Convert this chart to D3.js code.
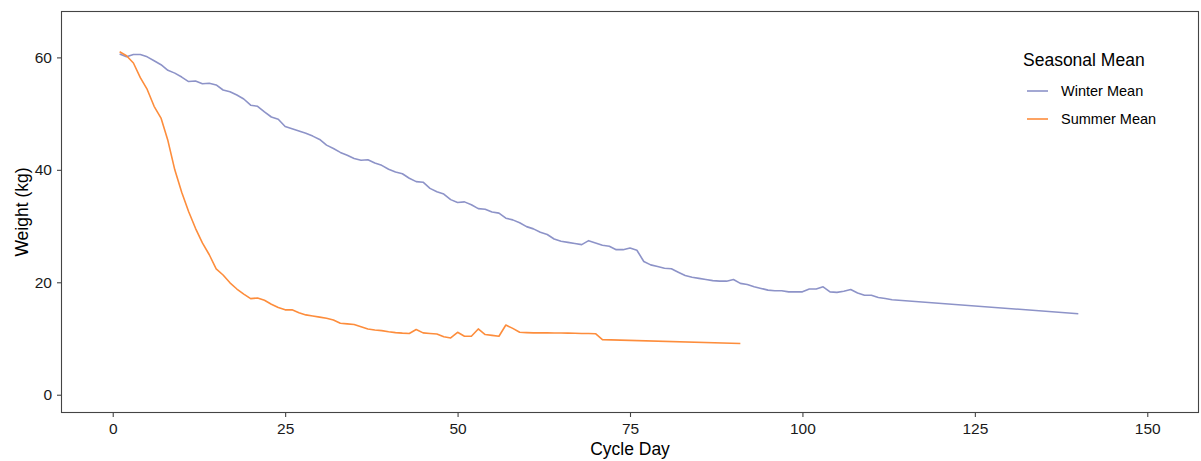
<!DOCTYPE html>
<html>
<head>
<meta charset="utf-8">
<script src="https://cdn.jsdelivr.net/npm/d3@7"></script>
<style>
  body { margin: 0; background: #fff; }
  text { font-family: "Liberation Sans", Arial, sans-serif; }
</style>
</head>
<body>
<svg id="chart" width="1201" height="461"></svg>
<script>
// Data
const winterDays = [1,2,3,4,5,6,7,8,9,10,11,12,13,14,15,16,17,18,19,20,
  21,22,23,24,25,26,27,28,29,30,31,32,33,34,35,36,37,38,39,40,
  41,42,43,44,45,46,47,48,49,50,51,52,53,54,55,56,57,58,59,60,
  61,62,63,64,65,66,67,68,69,70,71,72,73,74,75,76,77,78,79,80,
  81,82,83,84,85,86,87,88,89,90,91,92,93,94,95,96,97,98,99,100,
  101,102,103,104,105,106,107,108,109,110,111,112,113,140];
const winterWeight = [60.6,60.1,60.5,60.5,60.1,59.4,58.7,57.7,57.2,56.5,55.7,55.8,55.3,55.4,55.1,54.2,53.9,53.3,52.6,51.5,
  51.3,50.3,49.4,49.0,47.7,47.3,46.9,46.5,46.0,45.4,44.4,43.8,43.1,42.6,42.0,41.7,41.8,41.2,40.8,40.1,
  39.6,39.3,38.5,37.9,37.8,36.7,36.1,35.7,34.7,34.2,34.3,33.8,33.1,33.0,32.5,32.3,31.4,31.1,30.6,29.9,
  29.5,28.9,28.5,27.7,27.3,27.1,26.9,26.7,27.4,27.0,26.6,26.4,25.8,25.8,26.1,25.7,23.7,23.1,22.8,22.5,
  22.4,21.8,21.2,20.9,20.7,20.5,20.3,20.2,20.2,20.5,19.8,19.6,19.2,18.9,18.6,18.5,18.5,18.3,18.3,18.3,
  18.8,18.8,19.2,18.3,18.2,18.4,18.7,18.1,17.7,17.7,17.3,17.1,16.9,14.4];

const summerDays = [1,2,3,4,5,6,7,8,9,10,11,12,13,14,15,16,17,18,19,20,
  21,22,23,24,25,26,27,28,29,30,31,32,33,34,35,36,37,38,39,40,
  41,42,43,44,45,46,47,48,49,50,51,52,53,54,55,56,57,58,59,60,
  61,62,63,64,65,66,67,68,69,70,71,91];
const summerWeight = [61.0,60.3,59.0,56.4,54.3,51.3,49.2,45.2,40.0,36.0,32.6,29.6,27.0,24.9,22.4,21.3,19.9,18.8,17.9,17.1,
  17.2,16.8,16.1,15.5,15.1,15.1,14.6,14.2,14.0,13.8,13.6,13.3,12.7,12.6,12.5,12.1,11.7,11.5,11.4,11.2,
  11.05,10.95,10.9,11.6,11.0,10.9,10.8,10.3,10.1,11.1,10.4,10.4,11.7,10.7,10.55,10.4,12.4,11.8,11.1,11.05,
  11.0,11.0,11.0,10.98,10.97,10.95,10.93,10.9,10.88,10.85,9.8,9.1];

const xTicks = [0, 25, 50, 75, 100, 125, 150];
const yTicks = [0, 20, 40, 60];

const seriesNames = ['Winter Mean', 'Summer Mean'];
const seriesColors = ['#8d93c8', '#fd8d3c'];

const svg = d3.select('#chart');

// Panel geometry
const panel = { left: 61, right: 1199, top: 11, bottom: 413 };

const x = d3.scaleLinear().domain([-7.5, 157.5]).range([panel.left, panel.right]);
const y = d3.scaleLinear().domain([-3.25, 68.25]).range([panel.bottom, panel.top]);

const series = [
  { name: seriesNames[0], color: seriesColors[0], pts: winterDays.map((d, i) => [d, winterWeight[i]]) },
  { name: seriesNames[1], color: seriesColors[1], pts: summerDays.map((d, i) => [d, summerWeight[i]]) }
];

const line = d3.line().x(d => x(d[0])).y(d => y(d[1]));

svg.selectAll('path.series')
  .data(series)
  .enter()
  .append('path')
  .attr('class', 'series')
  .attr('d', d => line(d.pts))
  .attr('fill', 'none')
  .attr('stroke', d => d.color)
  .attr('stroke-width', 1.6)
  .attr('stroke-linejoin', 'round');

// Panel border
svg.append('rect')
  .attr('x', panel.left + 0.5)
  .attr('y', panel.top + 0.5)
  .attr('width', panel.right - panel.left - 1)
  .attr('height', panel.bottom - panel.top - 1)
  .attr('fill', 'none')
  .attr('stroke', '#444')
  .attr('stroke-width', 1.1);

// Axes
const xAxis = svg.append('g')
  .attr('transform', `translate(0,${panel.bottom})`)
  .call(d3.axisBottom(x).tickValues(xTicks).tickSize(4).tickSizeOuter(0).tickPadding(6));
const yAxis = svg.append('g')
  .attr('transform', `translate(${panel.left},0)`)
  .call(d3.axisLeft(y).tickValues(yTicks).tickSize(4).tickSizeOuter(0).tickPadding(5));

[xAxis, yAxis].forEach(g => {
  g.select('.domain').remove();
  g.selectAll('.tick line').attr('stroke', '#444').attr('stroke-width', 1.1);
  g.selectAll('.tick text')
    .attr('fill', '#1a1a1a')
    .style('font-size', '15.5px')
    .style('font-family', '"Liberation Sans", Arial, sans-serif');
});

// Axis titles
svg.append('text')
  .attr('x', (panel.left + panel.right) / 2)
  .attr('y', 455)
  .attr('text-anchor', 'middle')
  .style('font-size', '17.5px')
  .text('Cycle Day');

svg.append('text')
  .attr('transform', `translate(28,${(panel.top + panel.bottom) / 2}) rotate(-90)`)
  .attr('text-anchor', 'middle')
  .style('font-size', '17.5px')
  .text('Weight (kg)');

// Legend
const legend = svg.append('g').attr('transform', 'translate(1023,0)');
legend.append('text')
  .attr('x', 0)
  .attr('y', 66)
  .style('font-size', '17.5px')
  .text('Seasonal Mean');

const item = legend.selectAll('g.item')
  .data(series)
  .enter()
  .append('g')
  .attr('class', 'item')
  .attr('transform', (d, i) => `translate(0,${91 + i * 28})`);

item.append('line')
  .attr('x1', 4).attr('x2', 25)
  .attr('stroke', d => d.color)
  .attr('stroke-width', 1.6);

item.append('text')
  .attr('x', 38)
  .attr('y', 5)
  .style('font-size', '14.5px')
  .text(d => d.name);
</script>
</body>
</html>
